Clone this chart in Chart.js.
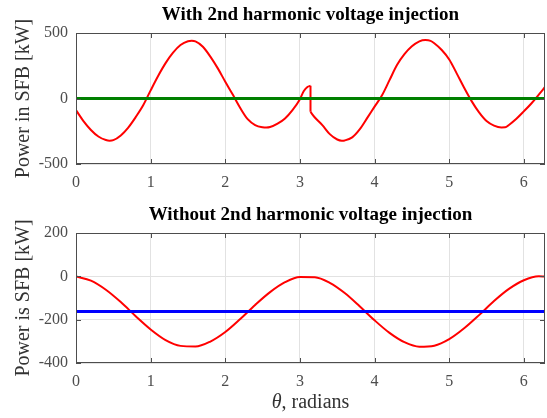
<!DOCTYPE html>
<html lang="en">
<head>
<meta charset="UTF-8">
<title>Power in SFB</title>
<script src="https://cdn.jsdelivr.net/npm/chart.js"></script>
<style>
    body { margin: 0; background: #fff; width: 547px; height: 418px; overflow: hidden; position: relative; }
    canvas { position: absolute; left: 0; }
    #topChart { top: 0; }
    #bottomChart { top: 200px; }
</style>
</head>
<body>
<canvas id="topChart" width="547" height="200"></canvas>
<canvas id="bottomChart" width="547" height="218"></canvas>
<script>
// top plot: with 2nd harmonic voltage injection (theta in rad, power in kW)
const thetaTopA = [0, 0.1, 0.2, 0.3, 0.4, 0.45, 0.5, 0.6, 0.7, 0.8, 0.9, 1.0, 1.1, 1.2, 1.3, 1.4, 1.5, 1.55, 1.6, 1.7, 1.8, 1.9, 2.0, 2.1, 2.2, 2.3, 2.4, 2.5, 2.55, 2.6, 2.7, 2.8, 2.9, 3.0, 3.05, 3.1, 3.1416];
const powerTopA = [-89, -172, -240, -290, -317, -322, -318, -282, -222, -142, -52, 62, 172, 270, 350, 408, 437, 440, 436, 395, 320, 230, 128, 30, -72, -158, -203, -220, -222, -218, -192, -152, -88, -5, 55, 88, 97];
const thetaTopB = [3.1416, 3.2, 3.3, 3.4, 3.5, 3.56, 3.6, 3.7, 3.8, 3.9, 4.0, 4.1, 4.2, 4.3, 4.4, 4.5, 4.6, 4.68, 4.75, 4.8, 4.9, 5.0, 5.1, 5.2, 5.3, 5.4, 5.5, 5.6, 5.7, 5.75, 5.8, 5.9, 6.0, 6.1, 6.2, 6.2832];
const powerTopB = [-102, -145, -203, -272, -313, -322, -320, -297, -236, -150, -62, 25, 140, 255, 338, 398, 436, 446, 440, 422, 370, 298, 192, 82, -20, -106, -172, -207, -221, -220, -202, -155, -98, -38, 30, 88];
const thetaFlat = [0, 6.2832];
const powerFlatTop = [0, 0];

// bottom plot: without 2nd harmonic voltage injection
const thetaBottom = [0, 0.2, 0.4, 0.6, 0.8, 1.0, 1.2, 1.4, 1.6, 1.8, 2.0, 2.2, 2.4, 2.6, 2.8, 3.0, 3.2, 3.4, 3.6, 3.8, 4.0, 4.2, 4.4, 4.6, 4.8, 5.0, 5.2, 5.4, 5.6, 5.8, 6.0, 6.2, 6.2832];
const powerBottom = [-1, -20, -62, -119, -184, -245, -294, -321, -324, -301, -257, -197, -132, -73, -27, -3, -4, -30, -77, -138, -203, -261, -304, -325, -320, -290, -240, -179, -114, -58, -18, 0, -1];
const powerFlatBottom = [-162, -162];

const xTickStep = 1;
const topTitle = "With 2nd harmonic voltage injection";
const bottomTitle = "Without 2nd harmonic voltage injection";

const serif = '"Liberation Serif", "Times New Roman", serif';
Chart.defaults.font.family = serif;

function pts(xs, ys) {
    return xs.map((x, i) => ({ x: x, y: ys[i] }));
}

// MATLAB-like box, inward ticks, title and x label
const frame = {
    id: 'frame',
    afterDatasetsDraw(chart, args, opts) {
        const { ctx, chartArea: a } = chart;
        const x = chart.scales.x, y = chart.scales.y;
        ctx.save();
        ctx.strokeStyle = '#4d4d4d';
        ctx.lineWidth = 1;
        ctx.beginPath();
        x.ticks.forEach(t => {
            const px = Math.round(x.getPixelForValue(t.value)) + 0.5;
            ctx.moveTo(px, a.bottom); ctx.lineTo(px, a.bottom - 5);
            ctx.moveTo(px, a.top); ctx.lineTo(px, a.top + 5);
        });
        y.ticks.forEach(t => {
            const py = Math.round(y.getPixelForValue(t.value)) + 0.5;
            ctx.moveTo(a.left, py); ctx.lineTo(a.left + 5, py);
            ctx.moveTo(a.right, py); ctx.lineTo(a.right - 5, py);
        });
        ctx.stroke();
        ctx.strokeRect(Math.round(a.left) + 0.5, Math.round(a.top) + 0.5, Math.round(a.width) - 1, Math.round(a.height) - 1);

        const cx = (a.left + a.right) / 2;
        ctx.fillStyle = '#000';
        ctx.font = 'bold 19px ' + serif;
        ctx.textAlign = 'center';
        ctx.textBaseline = 'middle';
        ctx.fillText(opts.title, cx, opts.titleY);

        if (opts.xLabel) {
            const fItalic = 'italic 20px ' + serif;
            const fNormal = '20px ' + serif;
            ctx.font = fItalic;
            const w1 = ctx.measureText('θ').width;
            ctx.font = fNormal;
            const w2 = ctx.measureText(opts.xLabel).width;
            let left = cx - (w1 + w2) / 2;
            ctx.textAlign = 'left';
            ctx.fillStyle = '#333';
            ctx.font = fItalic;
            ctx.fillText('θ', left, opts.xLabelY);
            ctx.font = fNormal;
            ctx.fillText(opts.xLabel, left + w1, opts.xLabelY);
        }
        ctx.restore();
    }
};

function makeOptions(cfg) {
    return {
        responsive: false,
        animation: false,
        layout: { padding: { top: 33, right: 2, left: 0, bottom: 0 } },
        plugins: {
            legend: { display: false },
            tooltip: { enabled: false },
            frame: cfg.frame
        },
        scales: {
            x: {
                type: 'linear',
                min: 0,
                max: 2 * Math.PI,
                grid: { color: '#e2e2e2', drawTicks: false },
                border: { display: false },
                ticks: { stepSize: xTickStep, includeBounds: false, padding: 9, maxRotation: 0, color: '#4d4d4d', font: { size: 16 } },
                afterFit: s => { s.height = cfg.xHeight; }
            },
            y: {
                min: cfg.yMin,
                max: cfg.yMax,
                grid: { color: '#e2e2e2', drawTicks: false },
                border: { display: false },
                ticks: { stepSize: cfg.yStep, padding: 8, color: '#4d4d4d', font: { size: 16 } },
                title: { display: true, text: cfg.yLabel, color: '#333', font: { size: 20 }, padding: { top: 12, bottom: 0 } },
                afterFit: s => { s.width = 76; }
            }
        }
    };
}

new Chart(document.getElementById('topChart'), {
    type: 'scatter',
    data: {
        datasets: [
            { data: pts(thetaFlat, powerFlatTop), showLine: true, borderColor: '#008000', borderWidth: 3, pointRadius: 0 },
            { data: pts(thetaTopA, powerTopA), showLine: true, borderColor: '#ff0000', borderWidth: 2, pointRadius: 0, cubicInterpolationMode: 'monotone' },
            { data: pts(thetaTopB, powerTopB), showLine: true, borderColor: '#ff0000', borderWidth: 2, pointRadius: 0, cubicInterpolationMode: 'monotone' },
            // vertical step at theta = pi
            { data: [{ x: thetaTopA[thetaTopA.length - 1], y: powerTopA[powerTopA.length - 1] }, { x: thetaTopB[0], y: powerTopB[0] }], showLine: true, borderColor: '#ff0000', borderWidth: 2, pointRadius: 0 }
        ]
    },
    options: makeOptions({
        xHeight: 36, yMin: -500, yMax: 500, yStep: 500,
        yLabel: 'Power in SFB [kW]',
        frame: { title: topTitle, titleY: 15 }
    }),
    plugins: [frame]
});

new Chart(document.getElementById('bottomChart'), {
    type: 'scatter',
    data: {
        datasets: [
            { data: pts(thetaFlat, powerFlatBottom), showLine: true, borderColor: '#0000ff', borderWidth: 3, pointRadius: 0 },
            { data: pts(thetaBottom, powerBottom), showLine: true, borderColor: '#ff0000', borderWidth: 2, pointRadius: 0, cubicInterpolationMode: 'monotone' }
        ]
    },
    options: makeOptions({
        xHeight: 55, yMin: -400, yMax: 200, yStep: 200,
        yLabel: 'Power is SFB [kW]',
        frame: { title: bottomTitle, titleY: 15, xLabel: ', radians', xLabelY: 203 }
    }),
    plugins: [frame]
});
</script>
</body>
</html>
